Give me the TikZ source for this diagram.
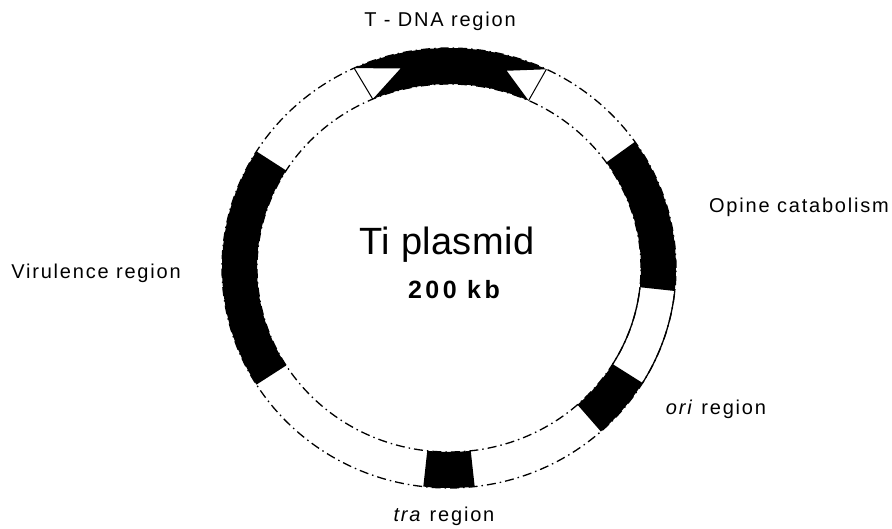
\documentclass[tikz,border=0pt]{standalone}
\usepackage{fontspec}
\setmainfont{Liberation Sans}
\newfontfamily\labfont[LetterSpace=9]{Liberation Sans}
\newfontfamily\titlefont[LetterSpace=1]{Liberation Sans}
\newfontfamily\kbfont[LetterSpace=14]{Liberation Sans}
\newcommand\ringseg[2]{%
  \fill[black] (#1:227 and 220) arc[start angle=#1,end angle=#2,x radius=227,y radius=220]
    -- (#2:192 and 184) arc[start angle=#2,end angle=#1,x radius=192,y radius=184] -- cycle;}
\tikzset{
  ringline/.style={line width=1.3pt, dash pattern=on 9pt off 4pt on 1.5pt off 4pt},
  solidline/.style={line width=1.3pt},
  lab/.style={font=\labfont\fontsize{20}{24}\selectfont, anchor=base, inner sep=0pt},
}
\begin{document}
\begin{tikzpicture}[x=1pt,y=1pt]
\useasboundingbox[fill=white] (-449,-261) rectangle (443,268);
% dashed ring outlines
\draw[ringline] (0,0) ellipse [x radius=227, y radius=220];
\draw[ringline] (0,0) ellipse [x radius=192, y radius=184];
% solid white segment
\draw[solidline] (-31.5:227 and 220) arc[start angle=-31.5,end angle=-6,x radius=227,y radius=220];
\draw[solidline] (-31.5:192 and 184) arc[start angle=-31.5,end angle=-6,x radius=192,y radius=184];
% black segments
\ringseg{148}{212}
\ringseg{-6}{35}
\ringseg{-48}{-31.5}
\ringseg{263.5}{276.5}
% T-DNA region
\fill[black] (114.7:227 and 220) arc[start angle=114.7,end angle=64.6,x radius=227,y radius=220]
  -- (74.2:212 and 205) -- (65.5:192 and 184)
  arc[start angle=65.5,end angle=113.4,x radius=192,y radius=184]
  -- (103.2:212 and 205) -- cycle;
\draw[line width=1pt] (114.7:227 and 220) -- (113.4:192 and 184);
\draw[line width=1pt] (64.6:227 and 220) -- (65.5:192 and 184);
% labels
\node[lab] (tdna) at (-9,241) {T - DNA region};
\node[lab] (vir) at (-353,-11) {Virulence region};
\node[lab] (opine) at (350,55) {Opine catabolism};
\node[lab] (ori) at (267,-147) {\textit{ori} region};
\node[lab] (tra) at (-5,-254) {\textit{tra} region};
\node[anchor=base, inner sep=0pt, font=\titlefont\fontsize{38}{44}\selectfont] (title) at (-2,13) {Ti plasmid};
\node[anchor=base, inner sep=0pt, font=\kbfont\bfseries\fontsize{25}{30}\selectfont] (size) at (5,-31) {200 kb};
\end{tikzpicture}
\end{document}
